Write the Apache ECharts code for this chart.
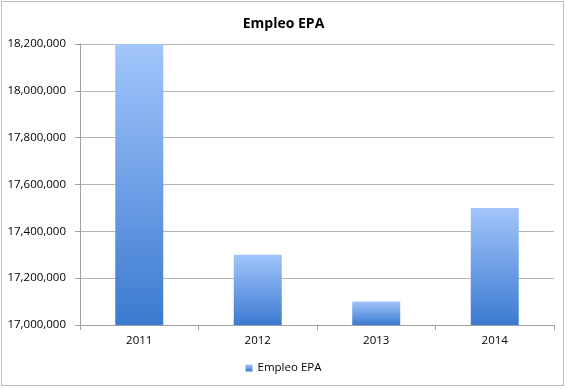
<!DOCTYPE html>
<html><head><meta charset="utf-8">
<script src="https://cdn.jsdelivr.net/npm/echarts@6/dist/echarts.min.js"></script>
<style>html,body{margin:0;padding:0;background:#fff}#c{width:567px;height:389px}
#frame{position:absolute;left:1px;top:1px;width:563px;height:385px;border:1px solid #bdbdbd;box-sizing:border-box;pointer-events:none}</style>
</head><body><div id="c"></div><div id="frame"></div>
<script>
const categories = ['2011', '2012', '2013', '2014'];
const seriesName = 'Empleo EPA';
const values = [18200000, 17300000, 17100000, 17500000];
const chart = echarts.init(document.getElementById('c'));
const fmt = v => v.toLocaleString('en-US');
chart.setOption({
  animation: false,
  title: { text: 'Empleo EPA', left: 'center', top: 12,
    textStyle: { fontFamily: 'Open Sans', fontSize: 14, fontWeight: 'bold', color: '#000' } },
  grid: { left: 80, right: 13, top: 44, bottom: 64 },
  legend: { bottom: 10, left: 'center', itemWidth: 7, itemHeight: 7, icon: 'rect', itemGap: 5,
    textStyle: { fontFamily: 'Open Sans', fontSize: 11.5, color: '#000' }, data: [seriesName] },
  xAxis: { type: 'category', data: categories,
    axisLine: { lineStyle: { color: '#a0a0a0' } },
    axisTick: { show: true, length: 5, lineStyle: { color: '#a0a0a0' } },
    axisLabel: { fontFamily: 'Open Sans', fontSize: 11.5, color: '#000', margin: 10 } },
  yAxis: { type: 'value', min: 17000000, max: 18200000, interval: 200000,
    axisLine: { show: true, lineStyle: { color: '#a0a0a0' } },
    axisTick: { show: true, length: 5, lineStyle: { color: '#a0a0a0' } },
    splitLine: { lineStyle: { color: '#b4b4b4' } },
    axisLabel: { fontFamily: 'Open Sans', fontSize: 11.5, color: '#000', margin: 14, formatter: fmt } },
  series: [{ name: seriesName, type: 'bar', data: values, barWidth: '40.5%',
    itemStyle: { color: new echarts.graphic.LinearGradient(0, 0, 0, 1, [
      { offset: 0, color: '#a2c5fb' }, { offset: 1, color: '#3b7ad0' }]) } }]
});
</script></body></html>
